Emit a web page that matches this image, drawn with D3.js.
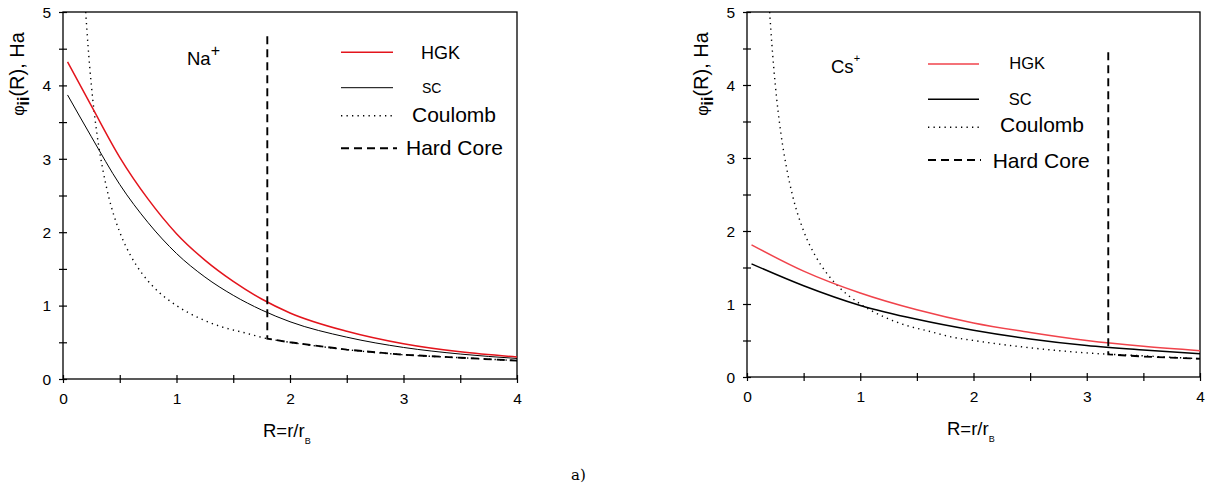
<!DOCTYPE html>
<html>
<head>
<meta charset="utf-8">
<script src="https://cdn.jsdelivr.net/npm/d3@7/dist/d3.min.js"></script>
<style>
body { margin: 0; background: #fff; }
svg { font-family: "Liberation Sans", Arial, sans-serif; }
</style>
</head>
<body>
<svg id="fig" width="1216" height="493"></svg>
<script>
// axis ticks
var xTicks = [0, 1, 2, 3, 4];
var xMinor = [0.5, 1.5, 2.5, 3.5];
var yTicks = [0, 1, 2, 3, 4, 5];
var yMinor = [0.5, 1.5, 2.5, 3.5, 4.5];

// Na+ panel
var naR   = [0.04, 0.25, 0.5, 0.75, 1, 1.25, 1.5, 1.75, 2, 2.5, 3, 3.5, 4];
var naHGK = [4.32, 3.72, 3.02, 2.45, 1.98, 1.62, 1.33, 1.09, 0.90, 0.65, 0.48, 0.37, 0.30];
var naSC  = [3.87, 3.30, 2.65, 2.13, 1.71, 1.39, 1.14, 0.94, 0.78, 0.57, 0.43, 0.34, 0.28];
var naCoreR = [1.8, 1.8, 2, 2.5, 3, 3.5, 4];
var naCoreV = [4.67, 0.55, 0.50, 0.40, 0.33, 0.29, 0.25];

// Cs+ panel
var csR   = [0.04, 0.5, 1, 1.5, 2, 2.5, 3, 3.5, 4];
var csHGK = [1.81, 1.45, 1.15, 0.92, 0.74, 0.61, 0.50, 0.42, 0.36];
var csSC  = [1.55, 1.25, 0.98, 0.79, 0.64, 0.52, 0.43, 0.37, 0.32];
var csCoreR = [3.19, 3.19, 3.5, 4];
var csCoreV = [4.45, 0.31, 0.28, 0.25];

// Coulomb (same in both panels)
var coulR = [0.2, 0.22, 0.25, 0.3, 0.35, 0.4, 0.5, 0.6, 0.7, 0.8, 1, 1.2, 1.4, 1.6, 1.8, 2, 2.5, 3, 3.5, 4];
var coulV = [5.0, 4.55, 4.0, 3.33, 2.86, 2.5, 2.0, 1.67, 1.43, 1.25, 1.0, 0.83, 0.71, 0.63, 0.55, 0.50, 0.40, 0.33, 0.29, 0.25];

var legendNames = ["HGK", "SC", "Coulomb", "Hard Core"];

function zip(xs, ys) {
	return xs.map(function(x, i) { return [x, ys[i]]; });
}

function drawPanel(p)
{
	var svg = d3.select("#fig");
	var g = svg.append("g").attr("transform", "translate(" + p.left + "," + p.top + ")");

	var x = d3.scaleLinear().domain([0, 4]).range([0, p.width]);
	var y = d3.scaleLinear().domain([0, 5]).range([p.height, 0]);

	g.append("clipPath").attr("id", "clip" + p.id)
		.append("rect").attr("width", p.width).attr("height", p.height);

	// frame
	g.append("rect")
		.attr("width", p.width).attr("height", p.height)
		.attr("fill", "none").attr("stroke", "#000").attr("stroke-width", 1.3);

	// x axis
	var xAxis = g.append("g").attr("transform", "translate(0," + p.height + ")")
		.call(d3.axisBottom(x).tickValues(xTicks.concat(xMinor)).tickSize(4)
			.tickFormat(function(d) { return xTicks.indexOf(d) >= 0 ? d : ""; }));
	xAxis.select(".domain").remove();
	xAxis.selectAll("line").attr("y1", -4).attr("y2", 4).attr("stroke-width", 1.2);
	xAxis.selectAll("text").attr("y", 25).attr("dy", 0)
		.style("font-size", "15.5px").style("font-family", "Liberation Sans, Arial, sans-serif").attr("fill", "#000");

	// y axis
	var yAxis = g.append("g")
		.call(d3.axisLeft(y).tickValues(yTicks.concat(yMinor)).tickSize(4)
			.tickFormat(function(d) { return yTicks.indexOf(d) >= 0 ? d : ""; }));
	yAxis.select(".domain").remove();
	yAxis.selectAll("line").attr("x1", -4).attr("x2", 4).attr("stroke-width", 1.2);
	yAxis.selectAll("text").attr("x", -12).attr("dy", "0.34em")
		.style("font-size", "15.5px").style("font-family", "Liberation Sans, Arial, sans-serif").attr("fill", "#000");

	var line = d3.line()
		.x(function(d) { return x(d[0]); })
		.y(function(d) { return y(d[1]); })
		.curve(d3.curveMonotoneX);

	var plot = g.append("g").attr("clip-path", "url(#clip" + p.id + ")");

	plot.append("path").datum(zip(coulR, coulV)).attr("d", line)
		.attr("fill", "none").attr("stroke", "#000").attr("stroke-width", 1.4)
		.attr("stroke-dasharray", "1.3,4.2");

	plot.append("path").datum(zip(p.r, p.sc)).attr("d", line)
		.attr("fill", "none").attr("stroke", "#000").attr("stroke-width", p.scWidth);

	plot.append("path").datum(zip(p.r, p.hgk)).attr("d", line)
		.attr("fill", "none").attr("stroke", p.red).attr("stroke-width", 1.5);

	var coreLine = d3.line()
		.x(function(d) { return x(d[0]); })
		.y(function(d) { return y(d[1]); });
	plot.append("path").datum(zip(p.coreR, p.coreV)).attr("d", coreLine)
		.attr("fill", "none").attr("stroke", "#000").attr("stroke-width", 1.9)
		.attr("stroke-dasharray", "8,5");

	// legend
	var lg = g.append("g").attr("transform", "translate(" + p.legX + ",0)");
	var styles = [
		{ stroke: p.red, w: 1.5, dash: null },
		{ stroke: "#000", w: p.scWidth, dash: null },
		{ stroke: "#000", w: 1.4, dash: "1.3,4.2" },
		{ stroke: "#000", w: 1.9, dash: "8,5" }
	];
	legendNames.forEach(function(name, i) {
		var s = styles[i];
		lg.append("line")
			.attr("x1", 0).attr("x2", p.legLen[i])
			.attr("y1", p.legY[i]).attr("y2", p.legY[i])
			.attr("stroke", s.stroke).attr("stroke-width", s.w)
			.attr("stroke-dasharray", s.dash);
		lg.append("text")
			.attr("x", p.legTextX[i]).attr("y", p.legTextY[i])
			.style("font-size", p.legFont[i] + "px")
			.text(name);
	});

	// ion label
	var ion = g.append("text").attr("x", p.ionX).attr("y", p.ionY).style("font-size", "18.5px");
	ion.append("tspan").text(p.ion);
	ion.append("tspan").attr("dy", p.plusDy).style("font-size", p.plusSize + "px").text("+");

	// axis titles
	var xt = g.append("text").attr("x", 200).attr("y", p.height + 58).style("font-size", "18.5px");
	xt.append("tspan").text("R=r/r");
	xt.append("tspan").attr("dy", 7).style("font-size", "9px").text("B");

	var yt = g.append("text")
		.attr("transform", "translate(-39," + 62 + ") rotate(-90)")
		.attr("text-anchor", "middle");
	yt.append("tspan").style("font-size", "16px").text("φ");
	yt.append("tspan").attr("dy", 5).style("font-size", "16px").style("font-weight", "bold").text("ii");
	yt.append("tspan").attr("dy", -5).style("font-size", "20px").text("(R), Ha");
}

drawPanel({
	id: "na", left: 63, top: 12, width: 454, height: 367,
	r: naR, hgk: naHGK, sc: naSC, coreR: naCoreR, coreV: naCoreV,
	red: "#e3141c", scWidth: 1.0,
	legX: 278, legLen: [52, 52, 52, 56],
	legY: [40.3, 75.7, 103.7, 136.3],
	legTextX: [80, 81, 71, 65],
	legTextY: [47.3, 81.3, 109.7, 143],
	legFont: [18, 14, 21, 21],
	ion: "Na", ionX: 124, ionY: 53, plusDy: -9, plusSize: 16
});

drawPanel({
	id: "cs", left: 747, top: 12, width: 453, height: 365,
	r: csR, hgk: csHGK, sc: csSC, coreR: csCoreR, coreV: csCoreV,
	red: "#f0434b", scWidth: 1.5,
	legX: 181, legLen: [51, 51, 51, 53],
	legY: [52, 87.3, 115.3, 148],
	legTextX: [81.3, 80.7, 72, 64.7],
	legTextY: [57.3, 93, 120.3, 156.3],
	legFont: [16.5, 16.5, 21, 21],
	ion: "Cs", ionX: 84, ionY: 61.3, plusDy: -11, plusSize: 11
});

// caption
d3.select("#fig").append("text")
	.attr("x", 571).attr("y", 480)
	.style("font-family", "DejaVu Serif, Liberation Serif, serif")
	.style("font-size", "15px")
	.text("a)");
</script>
</body>
</html>
